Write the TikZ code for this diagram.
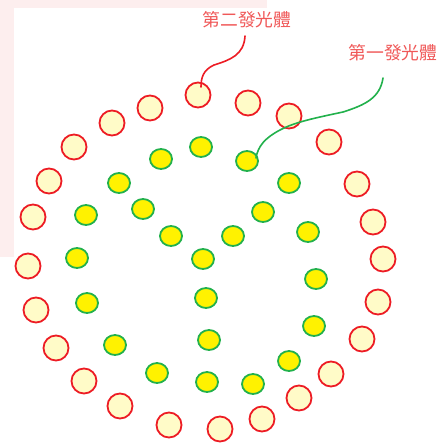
\documentclass[tikz,border=0pt]{standalone}
\usepackage{fontspec}
\newfontfamily\cjk{Noto Sans CJK TC}
\definecolor{pinkbg}{HTML}{FDEEEE}
\definecolor{redline}{HTML}{ED1C24}
\definecolor{paleyellow}{HTML}{FFFBC8}
\definecolor{greenline}{HTML}{22B14C}
\definecolor{yellowfill}{HTML}{FFF200}
\definecolor{labelred}{HTML}{F05858}
\tikzset{
  outer/.style={circle, draw=redline, fill=paleyellow, line width=1.8pt, minimum size=25pt, inner sep=0pt},
  inner/.style={ellipse, draw=greenline, fill=yellowfill, line width=1.8pt, minimum width=22pt, minimum height=20pt, inner sep=0pt},
  lbl/.style={text=labelred, font=\cjk\fontsize{17.8}{17.8}\selectfont, inner sep=0pt},
}
\usetikzlibrary{shapes.geometric}
\begin{document}
\begin{tikzpicture}[x=1pt,y=-1pt]
\useasboundingbox (0,0) rectangle (440,443);
\fill[pinkbg] (0,0) rectangle (267,257);
\fill[white] (14,8) rectangle (440,443);
% outer ring
\foreach \n/\x/\y in {1/198/95, 2/248/103, 3/289/116, 4/329/142, 5/357/184, 6/373/222, 7/383/259, 8/378/302, 9/362/339, 10/331/374, 11/299/398, 12/262/419, 13/220/429, 14/169/425, 15/120/406, 16/84/381, 17/56/348, 18/36/310, 19/28/266, 20/33/217, 21/49/181, 22/74/147, 23/112/123, 24/150/108}
  \node[outer] (r\n) at (\x,\y) {};
% inner ring
\foreach \n/\x/\y in {1/161/159, 2/201/147, 3/247/161, 4/119/183, 5/289/183, 6/86/215, 7/143/209, 8/263/212, 9/171/236, 10/233/236, 11/308/232, 12/203/259, 13/77/258, 14/316/279, 15/87/303, 16/206/298, 17/314/326, 18/115/345, 19/209/340, 20/289/361, 21/157/373, 22/207/382, 23/253/384}
  \node[inner] (g\n) at (\x,\y) {};
% labels
\node[lbl] (l2) at (247,20) {第二發光體};
\node[lbl] (l1) at (393,53) {第一發光體};
\coordinate (c2) at (201,87);
\coordinate (c1) at (256,158);
\draw[redline, line width=1.6pt, line cap=round] (245,36) .. controls (244,55) and (230,60) .. (214,65) .. controls (203,70) and (201,78) .. (c2);
\draw[greenline, line width=1.6pt, line cap=round] (383,78) .. controls (380,98) and (365,105) .. (343,112) .. controls (315,118) and (295,122) .. (280,130) .. controls (265,138) and (258,146) .. (c1);
\end{tikzpicture}
\end{document}
